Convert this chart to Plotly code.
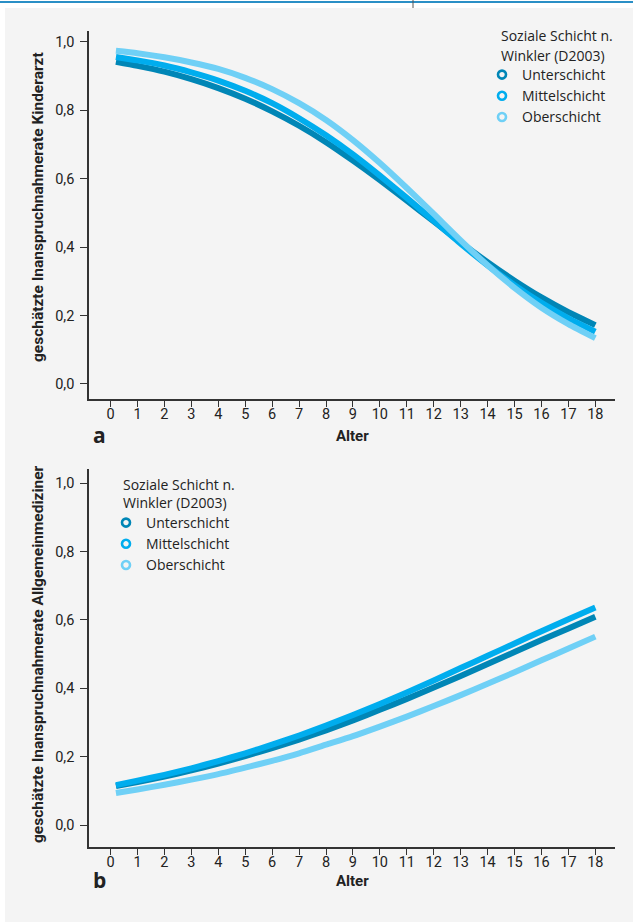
import plotly.graph_objects as go

W, H = 633, 922

# ---------------- data ----------------
ages = [0.2, 1, 2, 3, 4, 5, 6, 7, 8, 9, 10, 11, 12, 13, 14, 15, 16, 17, 18]
groups = ["Unterschicht", "Mittelschicht", "Oberschicht"]
colors = ["#0086b6", "#00adee", "#6fd0f6"]

# panel a: Kinderarzt
kinder_unter = [0.942, 0.930, 0.913, 0.891, 0.865, 0.834, 0.797, 0.755, 0.707, 0.653,
                0.596, 0.536, 0.475, 0.414, 0.356, 0.302, 0.253, 0.210, 0.172]
kinder_mittel = [0.956, 0.946, 0.931, 0.911, 0.887, 0.857, 0.821, 0.777, 0.727, 0.671,
                 0.609, 0.544, 0.477, 0.410, 0.347, 0.289, 0.237, 0.192, 0.153]
kinder_ober = [0.974, 0.967, 0.955, 0.940, 0.921, 0.895, 0.862, 0.821, 0.772, 0.713,
               0.646, 0.573, 0.497, 0.420, 0.347, 0.281, 0.223, 0.175, 0.134]

# panel b: Allgemeinmedizin
allg_unter = [0.114, 0.126, 0.142, 0.160, 0.180, 0.202, 0.225, 0.250, 0.277, 0.306,
              0.337, 0.369, 0.402, 0.436, 0.471, 0.506, 0.541, 0.575, 0.609]
allg_mittel = [0.117, 0.130, 0.147, 0.166, 0.187, 0.210, 0.235, 0.262, 0.291, 0.322,
               0.354, 0.388, 0.423, 0.459, 0.495, 0.531, 0.567, 0.602, 0.636]
allg_ober = [0.094, 0.104, 0.118, 0.133, 0.149, 0.168, 0.188, 0.210, 0.235, 0.260,
             0.288, 0.317, 0.348, 0.380, 0.413, 0.447, 0.482, 0.516, 0.551]

x_ticks = list(range(0, 19))
x_ticklabels = [str(v) for v in x_ticks]
y_ticks = [0.0, 0.2, 0.4, 0.6, 0.8, 1.0]
y_ticklabels = ["0,0", "0,2", "0,4", "0,6", "0,8", "1,0"]

legend_title = ["Soziale Schicht n.", "Winkler (D2003)"]
ytitle_a = "geschätzte Inanspruchnahmerate Kinderarzt"
ytitle_b = "geschätzte Inanspruchnahmerate Allgemeinmediziner"
xtitle = "Alter"

# ---------------- helpers ----------------
def px(x):
    return x / W

def py(y):
    return 1 - y / H

TICKF = "Roboto, Liberation Sans Narrow, sans-serif"
BOLDF = "Roboto, sans-serif"
REG = "Open Sans, Noto Sans, sans-serif"
AX = "#333333"
TXT = "#222222"

fig = go.Figure()

panels = [
    ("x", "y", [kinder_unter, kinder_mittel, kinder_ober], "legend"),
    ("x2", "y2", [allg_unter, allg_mittel, allg_ober], "legend2"),
]
for xa, ya, series, leg in panels:
    for name, col, vals in zip(groups, colors, series):
        fig.add_trace(go.Scatter(
            x=ages, y=vals, mode="lines", xaxis=xa, yaxis=ya,
            line=dict(color=col, width=6, shape="spline", smoothing=0.6),
            showlegend=False, hoverinfo="skip"))
    for name, col in zip(groups, colors):
        fig.add_trace(go.Scatter(
            x=[None], y=[None], mode="markers", xaxis=xa, yaxis=ya, name=name,
            marker=dict(symbol="circle-open", size=8, color=col, line=dict(width=2.6, color=col)),
            legend=leg, showlegend=True))

common_x = dict(
    range=[-0.8, 18.73], tickmode="array", tickvals=x_ticks, ticktext=x_ticklabels,
    ticks="outside", ticklen=6, tickwidth=1.2, tickcolor=AX, ticklabelstandoff=-5,
    showline=True, linecolor=AX, linewidth=1.5, showgrid=False, zeroline=False,
    tickfont=dict(family=TICKF, size=14.5, color=TXT), fixedrange=True,
)
common_y = dict(
    tickmode="array", tickvals=y_ticks, ticktext=y_ticklabels,
    ticks="outside", ticklen=7, tickwidth=1.2, tickcolor=AX, ticklabelstandoff=3,
    showline=True, linecolor=AX, linewidth=1.5, showgrid=False, zeroline=False,
    tickfont=dict(family=TICKF, size=14.5, color=TXT), fixedrange=True,
)

fig.update_layout(
    width=W, height=H,
    margin=dict(l=0, r=0, t=0, b=0),
    paper_bgcolor="white", plot_bgcolor="rgba(0,0,0,0)",
    xaxis=dict(domain=[px(89), px(615)], anchor="y", **common_x),
    yaxis=dict(domain=[py(399), py(31)], anchor="x", range=[-0.044, 1.032], **common_y),
    xaxis2=dict(domain=[px(89), px(615)], anchor="y2", **common_x),
    yaxis2=dict(domain=[py(847), py(469)], anchor="x2", range=[-0.064, 1.041], **common_y),
    legend=dict(x=px(482), y=py(59), xanchor="left", yanchor="top",
                bgcolor="rgba(0,0,0,0)", font=dict(family=REG, size=14, color=TXT),
                tracegroupgap=0, itemclick=False),
    legend2=dict(x=px(106), y=py(507), xanchor="left", yanchor="top",
                 bgcolor="rgba(0,0,0,0)", font=dict(family=REG, size=14, color=TXT),
                 tracegroupgap=0, itemclick=False),
    showlegend=True,
)

shapes = [
    dict(type="rect", xref="paper", yref="paper", x0=px(5), x1=1, y0=0, y1=py(8),
         fillcolor="#f4f4f4", line=dict(width=0), layer="below"),
    dict(type="line", xref="paper", yref="paper", x0=0, x1=1, y0=py(2), y1=py(2),
         line=dict(color="#2a8fc6", width=2)),
    dict(type="line", xref="paper", yref="paper", x0=px(413), x1=px(413), y0=py(0), y1=py(8),
         line=dict(color="#555555", width=1)),
]
fig.update_layout(shapes=shapes)

ann = []
def text(x, y, s, size, bold=False, family=REG, xanchor="center", angle=0):
    ann.append(dict(x=px(x), y=py(y), xref="paper", yref="paper", text=("<b>%s</b>" % s) if bold else s,
                    showarrow=False, xanchor=xanchor, yanchor="middle", textangle=angle,
                    font=dict(family=family, size=size, color=TXT)))

text(499, 36, legend_title[0], 14, xanchor="left")
text(499, 55, legend_title[1], 14, xanchor="left")
text(121, 484, legend_title[0], 14, xanchor="left")
text(121, 503, legend_title[1], 14, xanchor="left")
text(352, 436, xtitle, 15, bold=True, family=BOLDF)
text(352, 881, xtitle, 15, bold=True, family=BOLDF)
text(99, 435, "a", 21, bold=True, family=REG)
text(99, 880, "b", 21, bold=True, family=REG)
text(38, 207, ytitle_a, 15.5, bold=True, family=BOLDF, angle=-90)
text(38, 654, ytitle_b, 15.5, bold=True, family=BOLDF, angle=-90)
fig.update_layout(annotations=ann)

fig.write_html("out.html", config={"displayModeBar": False},
               post_script="document.body.style.margin='0px';")
